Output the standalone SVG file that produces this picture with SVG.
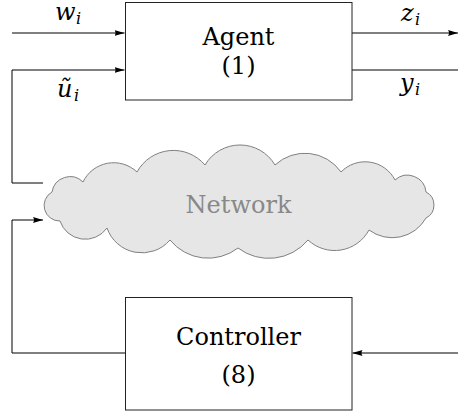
<svg xmlns="http://www.w3.org/2000/svg" width="458" height="418" viewBox="0 0 458 418">
<style>
.box{fill:#fff;stroke:#222;stroke-width:1}
.ln{fill:none;stroke:#000;stroke-width:1}
.net{fill:#e6e6e6;stroke:#808080;stroke-width:1}
.t{font-family:'DejaVu Serif',serif;font-size:24px;fill:#000;text-anchor:middle}
.m{font-family:'DejaVu Serif',serif;font-style:italic;font-size:24px;fill:#000}
.s{font-family:'DejaVu Serif',serif;font-style:italic;font-size:16px;fill:#000}
</style>
<defs>
<marker id="arr" markerWidth="10" markerHeight="6" refX="10" refY="3" orient="auto" markerUnits="userSpaceOnUse">
<path d="M0,0 L10,3 L0,6 Q2,3 0,0 Z" fill="#000"/>
</marker>
</defs>
<g id="connectors">
<path class="ln" d="M12,33 H124.5" marker-end="url(#arr)"/>
<path class="ln" d="M12,183 V70 H124.5" marker-end="url(#arr)"/>
<path class="ln" d="M352,33 H458" marker-end="url(#arr)"/>
<path class="ln" d="M352,70 H458"/>
<path class="ln" d="M12,183 H43"/>
<path class="ln" d="M125,353 H12 V220 H43" marker-end="url(#arr)"/>
<path class="ln" d="M458,353 H352.5" marker-end="url(#arr)"/>
</g>
<g id="labels">
<text class="m" x="55" y="20">w</text><text class="s" x="76" y="24">i</text>
<text class="m" x="57" y="97">ũ</text><text class="s" x="74" y="101">i</text>
<text class="m" x="401" y="21">z</text><text class="s" x="415" y="25">i</text>
<text class="m" x="400" y="91">y</text><text class="s" x="415" y="95">i</text>
</g>
<g id="agent">
<rect class="box" x="125.5" y="2.5" width="226.5" height="97.5"/>
<text class="t" x="238.5" y="45">Agent</text>
<text class="t" x="238.5" y="74">(1)</text>
</g>
<g id="network">
<path class="net" d="M52,192 A18.3,18.3 0 0 1 83,182 A34,34 0 0 1 137,172 A41.5,41.5 0 0 1 205,165 A40.6,40.6 0 0 1 275,165 A44,44 0 0 1 341,172 A33.6,33.6 0 0 1 395,180 A18.6,18.6 0 0 1 426,192 A14.6,14.6 0 0 1 426,218 A38.8,38.8 0 0 1 369,230 A39,39 0 0 1 308,240 A51,51 0 0 1 238,248 A49,49 0 0 1 170,240 A37,37 0 0 1 107,228 A26.6,26.6 0 0 1 60,221 A15.5,15.5 0 0 1 52,192 Z"/>
<text class="t" x="238.5" y="213" style="fill:#888">Network</text>
</g>
<g id="controller">
<rect class="box" x="125.5" y="297.5" width="226.5" height="112.5"/>
<text class="t" x="238.5" y="345">Controller</text>
<text class="t" x="238.5" y="383">(8)</text>
</g>
</svg>
